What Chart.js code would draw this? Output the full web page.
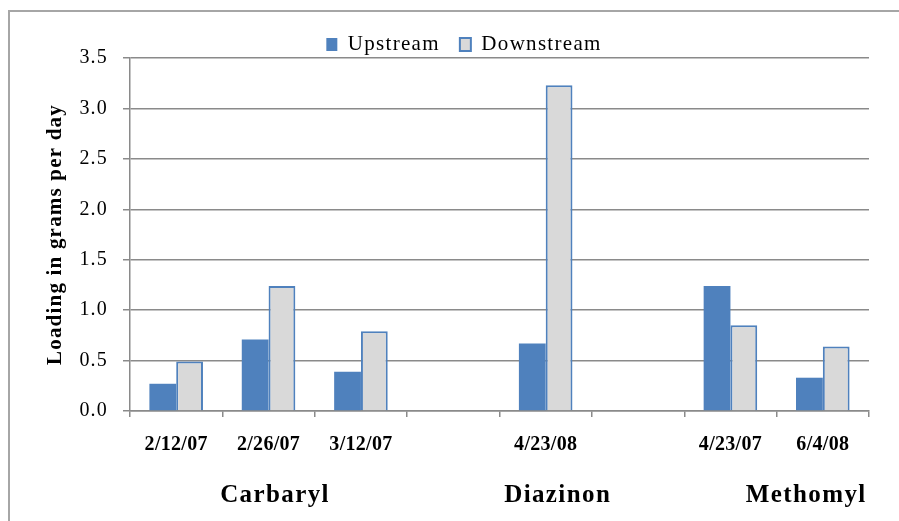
<!DOCTYPE html>
<html>
<head>
<meta charset="utf-8">
<script src="https://cdn.jsdelivr.net/npm/chart.js@4.4.1/dist/chart.umd.min.js"></script>
<style>
  html, body { margin: 0; padding: 0; background: #fff; overflow: hidden; }
  #frame { position: absolute; left: 8px; top: 10px; width: 1000px; height: 600px; border: 2px solid #a6a6a6; }
  #myLoadingChart { position: absolute; left: 0; top: 0; }
</style>
</head>
<body>
<div id="frame"></div>
<canvas id="myLoadingChart" width="899" height="521"></canvas>
<script>
// sampling dates (blank slots separate the pesticides)
const dates = ["2/12/07", "2/26/07", "3/12/07", "", "4/23/08", "", "4/23/07", "6/4/08"]
const upstream = [0.27, 0.71, 0.39, null, 0.67, null, 1.24, 0.33]
const downstream = [0.49, 1.24, 0.79, null, 3.23, null, 0.85, 0.64]
const yTicks = [0, 0.5, 1, 1.5, 2, 2.5, 3, 3.5]

// pesticide group labels under the dates, anchor in category units
const groups = ["Carbaryl", "Diazinon", "Methomyl"]
const groupAnchors = [1.07, 4.13, 6.82]

const SERIF = "'Liberation Serif', 'Times New Roman', serif"
const PAD_LEFT = 59

var ctx = document.getElementById("myLoadingChart").getContext("2d")

// the original text is wide-spaced, the amount depends on which text it is
function spacingFor(font) {
    const bold = /bold/.test(font)
    const size = parseFloat((font.match(/(\d+(\.\d+)?)px/) || [0, 12])[1])
    if (bold && size === 21) return "1.2px"   // axis title
    if (bold && size === 20) return "0.3px"   // dates
    if (bold && size === 25) return "1.4px"   // pesticide names
    if (!bold && size === 21) return "1.3px"  // legend
    if (!bold && size === 20) return "1.2px"  // y ticks
    return "0px"
}
const fontDesc = Object.getOwnPropertyDescriptor(CanvasRenderingContext2D.prototype, "font")
Object.defineProperty(ctx, "font", {
    get() { return fontDesc.get.call(this) },
    set(v) {
        fontDesc.set.call(this, v)
        this.letterSpacing = spacingFor(v)
    },
})

const groupLabels = {
    id: "groupLabels",
    afterDraw(chart) {
        const c = chart.ctx
        const x = chart.scales.x
        const step = x.getPixelForValue(1) - x.getPixelForValue(0)
        c.save()
        c.font = "bold 25px " + SERIF
        c.fillStyle = "#000"
        c.textAlign = "center"
        c.textBaseline = "alphabetic"
        groups.forEach((g, i) => {
            c.fillText(g, x.getPixelForValue(0) + groupAnchors[i] * step, 502)
        })
        c.restore()
    },
}

const data = {
    labels: dates,
    datasets: [
        {
            label: "Upstream",
            data: upstream,
            backgroundColor: "#4f81bd",
            borderColor: "#4f81bd",
            borderWidth: 0,
        },
        {
            label: "Downstream",
            data: downstream,
            backgroundColor: "#d9d9d9",
            borderColor: "#4f81bd",
            borderWidth: 2,
        },
    ],
}

const config = {
    type: "bar",
    data: data,
    plugins: [groupLabels],
    options: {
        responsive: false,
        animation: false,
        categoryPercentage: 0.58,
        barPercentage: 1.0,
        layout: {
            padding: { left: PAD_LEFT, right: 30, top: 14, bottom: 0 },
        },
        plugins: {
            legend: {
                position: "top",
                maxHeight: 44,
                labels: {
                    color: "#000",
                    font: { family: SERIF, size: 21 },
                    boxWidth: 11,
                    boxHeight: 13,
                    padding: 20,
                    generateLabels(chart) {
                        return chart.data.datasets.map((ds, i) => ({
                            text: ds.label,
                            fillStyle: ds.backgroundColor,
                            strokeStyle: ds.borderColor,
                            lineWidth: i === 0 ? 0 : 2,
                            datasetIndex: i,
                            fontColor: "#000",
                        }))
                    },
                },
            },
            tooltip: { enabled: false },
        },
        scales: {
            x: {
                afterFit(scale) { scale.height = 110 },
                grid: {
                    offset: true,
                    drawOnChartArea: false,
                    drawTicks: true,
                    tickLength: 6,
                    color: "#8a8a8a",
                    lineWidth: 1.5,
                },
                border: { color: "#8a8a8a", width: 1.5 },
                ticks: {
                    color: "#000",
                    font: { family: SERIF, size: 20, weight: "bold" },
                    padding: 16,
                    maxRotation: 0,
                    autoSkip: false,
                },
            },
            y: {
                min: 0,
                max: 3.5,
                afterFit(scale) { scale.width = 130 - PAD_LEFT },
                afterBuildTicks(scale) { scale.ticks = yTicks.map(v => ({ value: v })) },
                grid: {
                    color: "#8a8a8a",
                    lineWidth: 1.5,
                    tickLength: 7,
                },
                border: { color: "#8a8a8a", width: 1.5 },
                ticks: {
                    color: "#000",
                    font: { family: SERIF, size: 20 },
                    padding: 15,
                    callback: v => v.toFixed(1),
                },
                title: {
                    display: true,
                    text: "Loading in grams per day",
                    color: "#000",
                    font: { family: SERIF, size: 21, weight: "bold" },
                    padding: { top: -16, bottom: 0 },
                },
            },
        },
    },
}
var myLoadingChart = new Chart(ctx, config)
</script>
</body>
</html>
